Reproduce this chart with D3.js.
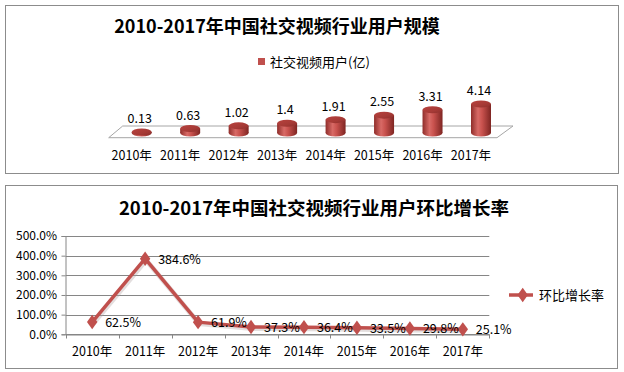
<!DOCTYPE html>
<html><head><meta charset="utf-8">
<script src="https://cdn.jsdelivr.net/npm/d3@7"></script>
<style>
html,body{margin:0;padding:0;background:#fff;}
svg{display:block;font-family:"Noto Sans CJK SC","Noto Sans",sans-serif;}
</style></head>
<body>
<svg id="c" width="624" height="372"></svg>
<script>
const years = ["2010年","2011年","2012年","2013年","2014年","2015年","2016年","2017年"];
const users = [0.13,0.63,1.02,1.4,1.91,2.55,3.31,4.14];
const growth = [62.5,384.6,61.9,37.3,36.4,33.5,29.8,25.1];
const growthTicks = [0,100,200,300,400,500];
const title1 = "2010-2017年中国社交视频行业用户规模";
const title2 = "2010-2017年中国社交视频行业用户环比增长率";
const legend1 = "社交视频用户(亿)";
const legend2 = "环比增长率";

const red = "#C0504D";
const svg = d3.select("#c");
const defs = svg.append("defs");

// ---------- Panel 1 ----------
svg.append("rect").attr("x",5.5).attr("y",5.5).attr("width",613).attr("height",168)
  .attr("fill","#fff").attr("stroke","#8c8c8c");
svg.append("text").attr("x",277).attr("y",33).attr("text-anchor","middle")
  .attr("font-size",18).attr("font-weight","bold").attr("fill","#000").text(title1);
svg.append("rect").attr("x",258).attr("y",58).attr("width",7).attr("height",7).attr("fill",red);
svg.append("text").attr("x",270).attr("y",66.5).attr("font-size",13).attr("fill","#000").text(legend1);

const gBody = defs.append("linearGradient").attr("id","body").attr("x1","0").attr("x2","1").attr("y1","0").attr("y2","0");
[["0%","#8f2d2a"],["35%","#d86a66"],["55%","#c9524e"],["100%","#7e2522"]].forEach(s=>gBody.append("stop").attr("offset",s[0]).attr("stop-color",s[1]));
const gTop = defs.append("linearGradient").attr("id","top").attr("x1","0").attr("x2","1").attr("y1","0").attr("y2","1");
[["0%","#b8423e"],["60%","#a63a36"],["100%","#8c2f2c"]].forEach(s=>gTop.append("stop").attr("offset",s[0]).attr("stop-color",s[1]));

const xc = d3.scalePoint().domain(years).range([141.7,481]);
const base = 133;
const yc = d3.scaleLinear().domain([0,5]).range([base, base-35]);
const cw = 20, ry = 3.5;

// floor
const fl = xc.range()[0]-33, fr = xc.range()[1]+16;
svg.append("polygon")
  .attr("points",[[fl,137.7],[fl+14,126],[fr+16,126],[fr,137.7]].map(p=>p.join(",")).join(" "))
  .attr("fill","#fff").attr("stroke","#a6a6a6").attr("stroke-width",1);

const cyl = svg.append("g").selectAll("g").data(years).join("g");
cyl.append("ellipse").attr("cx",d=>xc(d)).attr("cy",base).attr("rx",cw/2).attr("ry",ry).attr("fill","url(#body)");
cyl.append("rect").attr("x",d=>xc(d)-cw/2).attr("y",(d,i)=>yc(users[i])).attr("width",cw)
  .attr("height",(d,i)=>base-yc(users[i])).attr("fill","url(#body)");
cyl.append("ellipse").attr("cx",d=>xc(d)).attr("cy",(d,i)=>yc(users[i])).attr("rx",cw/2).attr("ry",ry).attr("fill","url(#top)");
cyl.append("text").attr("x",d=>xc(d)-2).attr("y",(d,i)=>yc(users[i])-9).attr("text-anchor","middle")
  .attr("font-size",12.5).attr("fill","#000").text((d,i)=>users[i]);
cyl.append("text").attr("x",d=>xc(d)-10).attr("y",160).attr("text-anchor","middle")
  .attr("font-size",12.5).attr("fill","#000").text(d=>d);

// ---------- Panel 2 ----------
svg.append("rect").attr("x",5.5).attr("y",185.5).attr("width",612).attr("height",183)
  .attr("fill","#fff").attr("stroke","#8c8c8c");
svg.append("text").attr("x",314).attr("y",215).attr("text-anchor","middle")
  .attr("font-size",18.5).attr("font-weight","bold").attr("fill","#000").text(title2);

const xb = d3.scaleBand().domain(years).range([65.7,489.3]);
const yb = d3.scaleLinear().domain([0,500]).range([334.3,236]);

const grid = svg.append("g");
grid.selectAll("line").data(growthTicks).join("line")
  .attr("x1",65.7).attr("x2",489.3).attr("y1",d=>Math.round(yb(d))+0.5).attr("y2",d=>Math.round(yb(d))+0.5)
  .attr("stroke","#868686").attr("stroke-width",1);

const yAxis = svg.append("g").attr("transform","translate(65.5,0)")
  .call(d3.axisLeft(yb).tickValues(growthTicks).tickSize(4).tickFormat(d=>d3.format(".1f")(d)+"%"));
yAxis.select(".domain").attr("stroke","#868686");
yAxis.selectAll(".tick line").attr("stroke","#868686");
yAxis.selectAll("text").attr("font-size",12).attr("fill","#000").attr("font-family","'Noto Sans CJK SC','Noto Sans',sans-serif").attr("x",-8.5);

const xAxis = svg.append("g").attr("transform","translate(0,"+(Math.round(yb(0))+0.5)+")")
  .call(d3.axisBottom(xb).tickSize(0).tickPadding(13));
xAxis.select(".domain").attr("stroke","#868686");
xAxis.selectAll("text").attr("font-size",12.5).attr("fill","#000").attr("font-family","'Noto Sans CJK SC','Noto Sans',sans-serif");
// band boundary ticks
xAxis.append("g").selectAll("line").data(years.concat(["end"])).join("line")
  .attr("x1",(d,i)=>Math.round(i<years.length?xb(d):xb.range()[1])+0.5)
  .attr("x2",(d,i)=>Math.round(i<years.length?xb(d):xb.range()[1])+0.5)
  .attr("y1",0).attr("y2",4).attr("stroke","#868686");

const cx = (d)=>xb(d)+xb.bandwidth()/2;
const line = d3.line().x((d,i)=>cx(years[i])).y(d=>yb(d));
svg.append("path").datum(growth).attr("d",line).attr("fill","none")
  .attr("stroke","#b0a0a0").attr("stroke-width",5).attr("opacity",0.35).attr("transform","translate(1,1.5)");
svg.append("path").datum(growth).attr("d",line).attr("fill","none")
  .attr("stroke",red).attr("stroke-width",3.5).attr("stroke-linejoin","round");
const diamond = d3.symbol().type(d3.symbolDiamond).size(60);
svg.append("g").selectAll("path").data(growth).join("path")
  .attr("d",diamond).attr("transform",(d,i)=>`translate(${cx(years[i])},${yb(d)}) scale(1.25,1)`).attr("fill",red);
svg.append("g").selectAll("text").data(growth).join("text")
  .attr("x",(d,i)=>cx(years[i])+13).attr("y",d=>yb(d)+5).attr("font-size",12.5).attr("fill","#000")
  .text(d=>d3.format(".1f")(d)+"%");

// legend
svg.append("line").attr("x1",509).attr("x2",533).attr("y1",295).attr("y2",295).attr("stroke",red).attr("stroke-width",3.5);
svg.append("path").attr("d",diamond).attr("transform","translate(522.7,295) scale(1.25,1)").attr("fill",red);
svg.append("text").attr("x",539).attr("y",300).attr("font-size",13).attr("fill","#000").text(legend2);
</script>
</body></html>
